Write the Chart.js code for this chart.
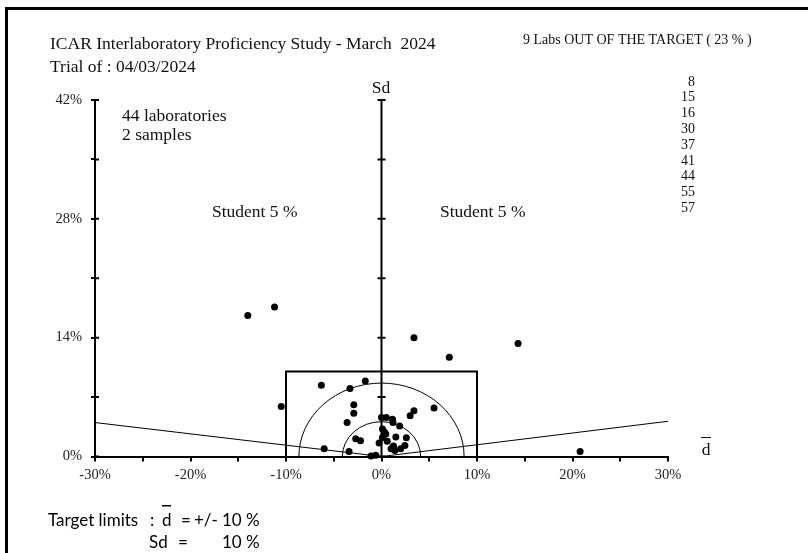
<!DOCTYPE html>
<html lang="en">
<head>
<meta charset="UTF-8">
<title>ICAR Proficiency Study - March 2024</title>
<style>
    html, body { margin: 0; padding: 0; background: #fff; }
    #caixa { width: 808px; height: 553px; position: relative; }
</style>
</head>
<body>
<div id="caixa"><canvas id="graficoLabs"></canvas></div>

<script src="https://cdn.jsdelivr.net/npm/chart.js"></script>
<script>
    // mean deviation (d, %) and standard deviation (Sd, %) of each lab
    const labD  = [-14.0, -11.2, -10.5, -6.3, -1.7, -3.3, -2.9, -2.9, -3.6, -2.7,
                   -2.2, -6.0, -3.4, -1.1, -0.6, 3.4, 7.1, 14.3, 20.8, 5.5,
                   3.4, 3.0, 0.0, 0.5, 1.15, 1.2, 1.9, 0.1, 0.3, 0.45,
                   0.1, 1.5, 2.6, 0.6, -0.25, 2.45, 1.25, 1.0, 2.0, 1.4];
    const labSd = [16.6, 17.6, 5.9, 8.4, 8.9, 8.0, 6.1, 5.1, 4.0, 2.1,
                   1.85, 0.9, 0.6, 0.05, 0.15, 14.0, 11.7, 13.3, 0.6, 5.7,
                   5.4, 4.8, 4.6, 4.6, 4.4, 4.0, 3.6, 3.25, 2.9, 2.65,
                   2.25, 2.3, 2.2, 1.8, 1.6, 1.3, 1.25, 0.9, 0.9, 0.7];

    // student 5% lines, target box and circles
    const studentX = [-30, 0, 30];
    const studentY = [4.0, 0, 4.15];
    const targetBoxX = [-10, -10, 10, 10];
    const targetBoxY = [0, 10, 10, 0];
    const circleRadii = [4.1, 8.65];

    const labsOut = ['8', '15', '16', '30', '37', '41', '44', '55', '57'];

    const serif = '"Liberation Serif", "Times New Roman", serif';
    const sans = 'Lato, "Liberation Sans", sans-serif';

    function pares(xs, ys) {
        return xs.map((v, i) => ({ x: v, y: ys[i] }));
    }

    const extras = {
        id: 'extras',
        beforeDatasetsDraw(chart) {
            const { ctx, scales: { x, y } } = chart;
            const x0 = x.getPixelForValue(0);
            const y0 = y.getPixelForValue(0);
            ctx.save();
            ctx.strokeStyle = '#000';
            ctx.lineWidth = 1;
            circleRadii.forEach(r => {
                const rx = x.getPixelForValue(r) - x0;
                const ry = y0 - y.getPixelForValue(r);
                ctx.beginPath();
                ctx.ellipse(x0, y0, rx, ry, 0, Math.PI, 2 * Math.PI);
                ctx.stroke();
            });
            // Sd axis in the middle + crossing ticks
            ctx.lineWidth = 2;
            ctx.beginPath();
            ctx.moveTo(x0, y0);
            ctx.lineTo(x0, y.top);
            ctx.stroke();
            y.ticks.forEach(t => {
                const py = y.getPixelForValue(t.value);
                ctx.beginPath();
                ctx.moveTo(x0 - 4, py); ctx.lineTo(x0 + 4, py);
                ctx.moveTo(x.left, py); ctx.lineTo(x.left + 4, py);
                ctx.stroke();
            });
            ctx.restore();
        },
        afterDraw(chart) {
            const ctx = chart.ctx;
            ctx.save();
            // frame
            ctx.fillStyle = '#000';
            ctx.fillRect(5, 7, 803, 3);
            ctx.fillRect(5, 7, 3, 546);

            ctx.fillStyle = '#111';
            ctx.textBaseline = 'middle';
            ctx.textAlign = 'left';
            ctx.font = '17.5px ' + serif;
            ctx.fillText('ICAR Interlaboratory Proficiency Study - March  2024', 50, 44);
            ctx.fillText('Trial of : 04/03/2024', 50, 67);
            ctx.fillText('44 laboratories', 122, 116);
            ctx.fillText('2 samples', 122, 135);
            ctx.fillText('Student 5 %', 212, 212);
            ctx.fillText('Student 5 %', 440, 212);
            ctx.textAlign = 'center';
            ctx.fillText('Sd', 381, 88);
            ctx.fillText('d', 706, 450);
            ctx.fillRect(701, 437, 10, 1);

            ctx.textAlign = 'left';
            ctx.font = '14px ' + serif;
            ctx.fillText('9 Labs OUT OF THE TARGET ( 23 % )', 523, 40);
            ctx.textAlign = 'right';
            labsOut.forEach((lab, i) => ctx.fillText(lab, 695, 82 + i * 15.8));

            // target limits
            ctx.fillStyle = '#000';
            ctx.font = '17px ' + sans;
            ctx.textAlign = 'left';
            ctx.fillText('Target limits', 48, 521);
            ctx.fillText(':', 150, 521);
            ctx.fillText('d', 162, 521);
            ctx.fillRect(162, 505, 9, 1.5);
            ctx.fillText('=', 181, 521);
            ctx.fillText('+/-', 194, 521);
            ctx.fillText('10 %', 222, 521);
            ctx.fillText('Sd', 149, 543);
            ctx.fillText('=', 178, 543);
            ctx.fillText('10 %', 222, 543);
            ctx.restore();
        }
    };

    const ctx = document.getElementById('graficoLabs').getContext('2d');

    new Chart(ctx, {
        type: 'scatter',
        data: {
            datasets: [
                {
                    label: 'Labs',
                    data: pares(labD, labSd),
                    backgroundColor: '#000',
                    borderWidth: 0,
                    pointRadius: 3.5,
                    clip: false
                },
                {
                    label: 'Student 5 %',
                    data: pares(studentX, studentY),
                    showLine: true,
                    borderColor: '#000',
                    borderWidth: 1,
                    pointRadius: 0,
                    clip: false
                },
                {
                    label: 'Target',
                    data: pares(targetBoxX, targetBoxY),
                    showLine: true,
                    borderColor: '#000',
                    borderWidth: 2,
                    pointRadius: 0,
                    clip: false
                }
            ]
        },
        options: {
            responsive: true,
            maintainAspectRatio: false,
            animation: false,
            layout: { padding: { top: 100, right: 140, left: 0, bottom: 0 } },
            plugins: {
                legend: { display: false },
                tooltip: { enabled: false }
            },
            scales: {
                x: {
                    type: 'linear',
                    min: -30,
                    max: 30,
                    afterFit: s => { s.height = 96.5; },
                    border: { color: '#000', width: 2 },
                    grid: { drawOnChartArea: false, color: '#000', lineWidth: 2, tickLength: 5 },
                    ticks: {
                        stepSize: 5,
                        padding: 5,
                        color: '#222',
                        font: { family: serif, size: 14.5 },
                        maxRotation: 0,
                        autoSkip: false,
                        callback: v => (v % 10 === 0 ? v + '%' : '')
                    }
                },
                y: {
                    type: 'linear',
                    min: 0,
                    max: 42,
                    afterFit: s => { s.width = 95; },
                    border: { color: '#000', width: 2 },
                    grid: { drawOnChartArea: false, color: '#000', lineWidth: 2, tickLength: 4 },
                    ticks: {
                        stepSize: 7,
                        padding: 9,
                        color: '#222',
                        font: { family: serif, size: 14.5 },
                        callback: v => (v % 14 === 0 ? v + '%' : '')
                    }
                }
            }
        },
        plugins: [extras]
    });
</script>
</body>
</html>
